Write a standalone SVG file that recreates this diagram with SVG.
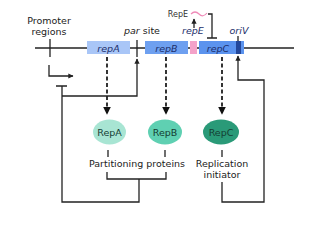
<svg xmlns="http://www.w3.org/2000/svg" width="330" height="233" viewBox="0 0 330 233">
<defs>
<style>
.t{font-family:"DejaVu Sans",Verdana,sans-serif;font-size:9.5px;fill:#222;text-anchor:middle}
.g{font-family:"DejaVu Sans",Verdana,sans-serif;font-size:9.5px;font-style:italic;fill:#1d2f6b;text-anchor:middle}
.s{font-family:"DejaVu Sans",Verdana,sans-serif;font-size:8px;fill:#333;text-anchor:middle}
.p{font-family:"DejaVu Sans",Verdana,sans-serif;font-size:9.5px;fill:#143d33;text-anchor:middle}
.ln{fill:none;stroke:#222;stroke-width:1.3}
.dash{fill:none;stroke:#111;stroke-width:1.7;stroke-dasharray:4,2.5}
</style>
<marker id="ah" viewBox="0 0 10 10" refX="9" refY="5" markerWidth="4.5" markerHeight="5" orient="auto"><path d="M0,0 L10,5 L0,10 z" fill="#111"/></marker>
<marker id="ahs" viewBox="0 0 10 10" refX="9" refY="5" markerWidth="4" markerHeight="4" orient="auto"><path d="M0,0 L10,5 L0,10 z" fill="#222"/></marker>
</defs>
<g id="backbone">
<line x1="35" y1="48" x2="294" y2="48" stroke="#222" stroke-width="1.3"/>
<line x1="50" y1="39" x2="50" y2="57" stroke="#222" stroke-width="1.3"/>
<line x1="137" y1="40" x2="137" y2="57" stroke="#222" stroke-width="1.3"/>
</g>
<g id="promoter-label"><text class="t" x="49" y="24">Promoter</text><text class="t" x="49" y="35">regions</text></g>
<g id="par-site"><text class="t" x="142" y="34"><tspan font-style="italic">par</tspan> site</text></g>
<g id="repA"><rect x="87" y="41" width="43" height="13" fill="#a9c6f7"/><text class="g" x="108.5" y="51.5">repA</text></g>
<g id="repB"><rect x="145" y="41" width="43" height="13" fill="#6ea0f0"/><text class="g" x="166.5" y="51.5">repB</text></g>
<g id="repE"><rect x="190" y="41" width="7" height="13" fill="#f4a2c9"/><text class="g" x="193" y="34">repE</text></g>
<g id="repC"><rect x="199" y="41" width="45" height="13" fill="#5b93ee"/><rect x="236" y="41" width="5" height="13" fill="#23479a"/><text class="g" x="218" y="51.5">repC</text></g>
<g id="oriV"><text class="g" x="239" y="34">oriV</text></g>
<g id="RepE-protein"><text class="s" x="178" y="17">RepE</text><path d="M191,14 q4,-4 8,0 t8,-1" fill="none" stroke="#f08ab8" stroke-width="1.2"/></g>
<g id="RepA"><ellipse cx="109.5" cy="132" rx="16.5" ry="12.5" fill="#a8e5d3"/><text class="p" x="109.5" y="135.5">RepA</text></g>
<g id="RepB"><ellipse cx="165" cy="132" rx="17" ry="12.5" fill="#5fd0b2"/><text class="p" x="165" y="135.5">RepB</text></g>
<g id="RepC"><ellipse cx="221" cy="132" rx="18" ry="12.5" fill="#2a9a78"/><text class="p" x="221" y="135.5">RepC</text></g>
<g id="labels"><text class="t" x="137" y="167">Partitioning proteins</text><text class="t" x="222" y="167">Replication</text><text class="t" x="222" y="178">initiator</text></g>
<g id="connectors">
<path class="ln" d="M49,65 V76 H73" marker-end="url(#ahs)"/>
<line class="dash" x1="107" y1="57" x2="107" y2="114" marker-end="url(#ah)"/>
<line class="dash" x1="166" y1="57" x2="166" y2="114" marker-end="url(#ah)"/>
<line class="dash" x1="222" y1="57" x2="222" y2="114" marker-end="url(#ah)"/>
<path class="ln" d="M194,28 V19" marker-end="url(#ahs)"/>
<path class="ln" d="M208,14 H212 V38 M207,38 H217"/>
<line class="ln" x1="238" y1="36" x2="238" y2="41"/>
<path class="ln" d="M108,150 V157 M165,150 V157 M222,150 V157"/>
<path class="ln" d="M107,172 V179 H166 V172 M139,179 V202 H62 V86 M56,86 H67"/>
<path class="ln" d="M62,96 H137 V59" marker-end="url(#ahs)"/>
<path class="ln" d="M222,182 V202 H264 V80 H238 V56" marker-end="url(#ahs)"/>
</g>
</svg>
